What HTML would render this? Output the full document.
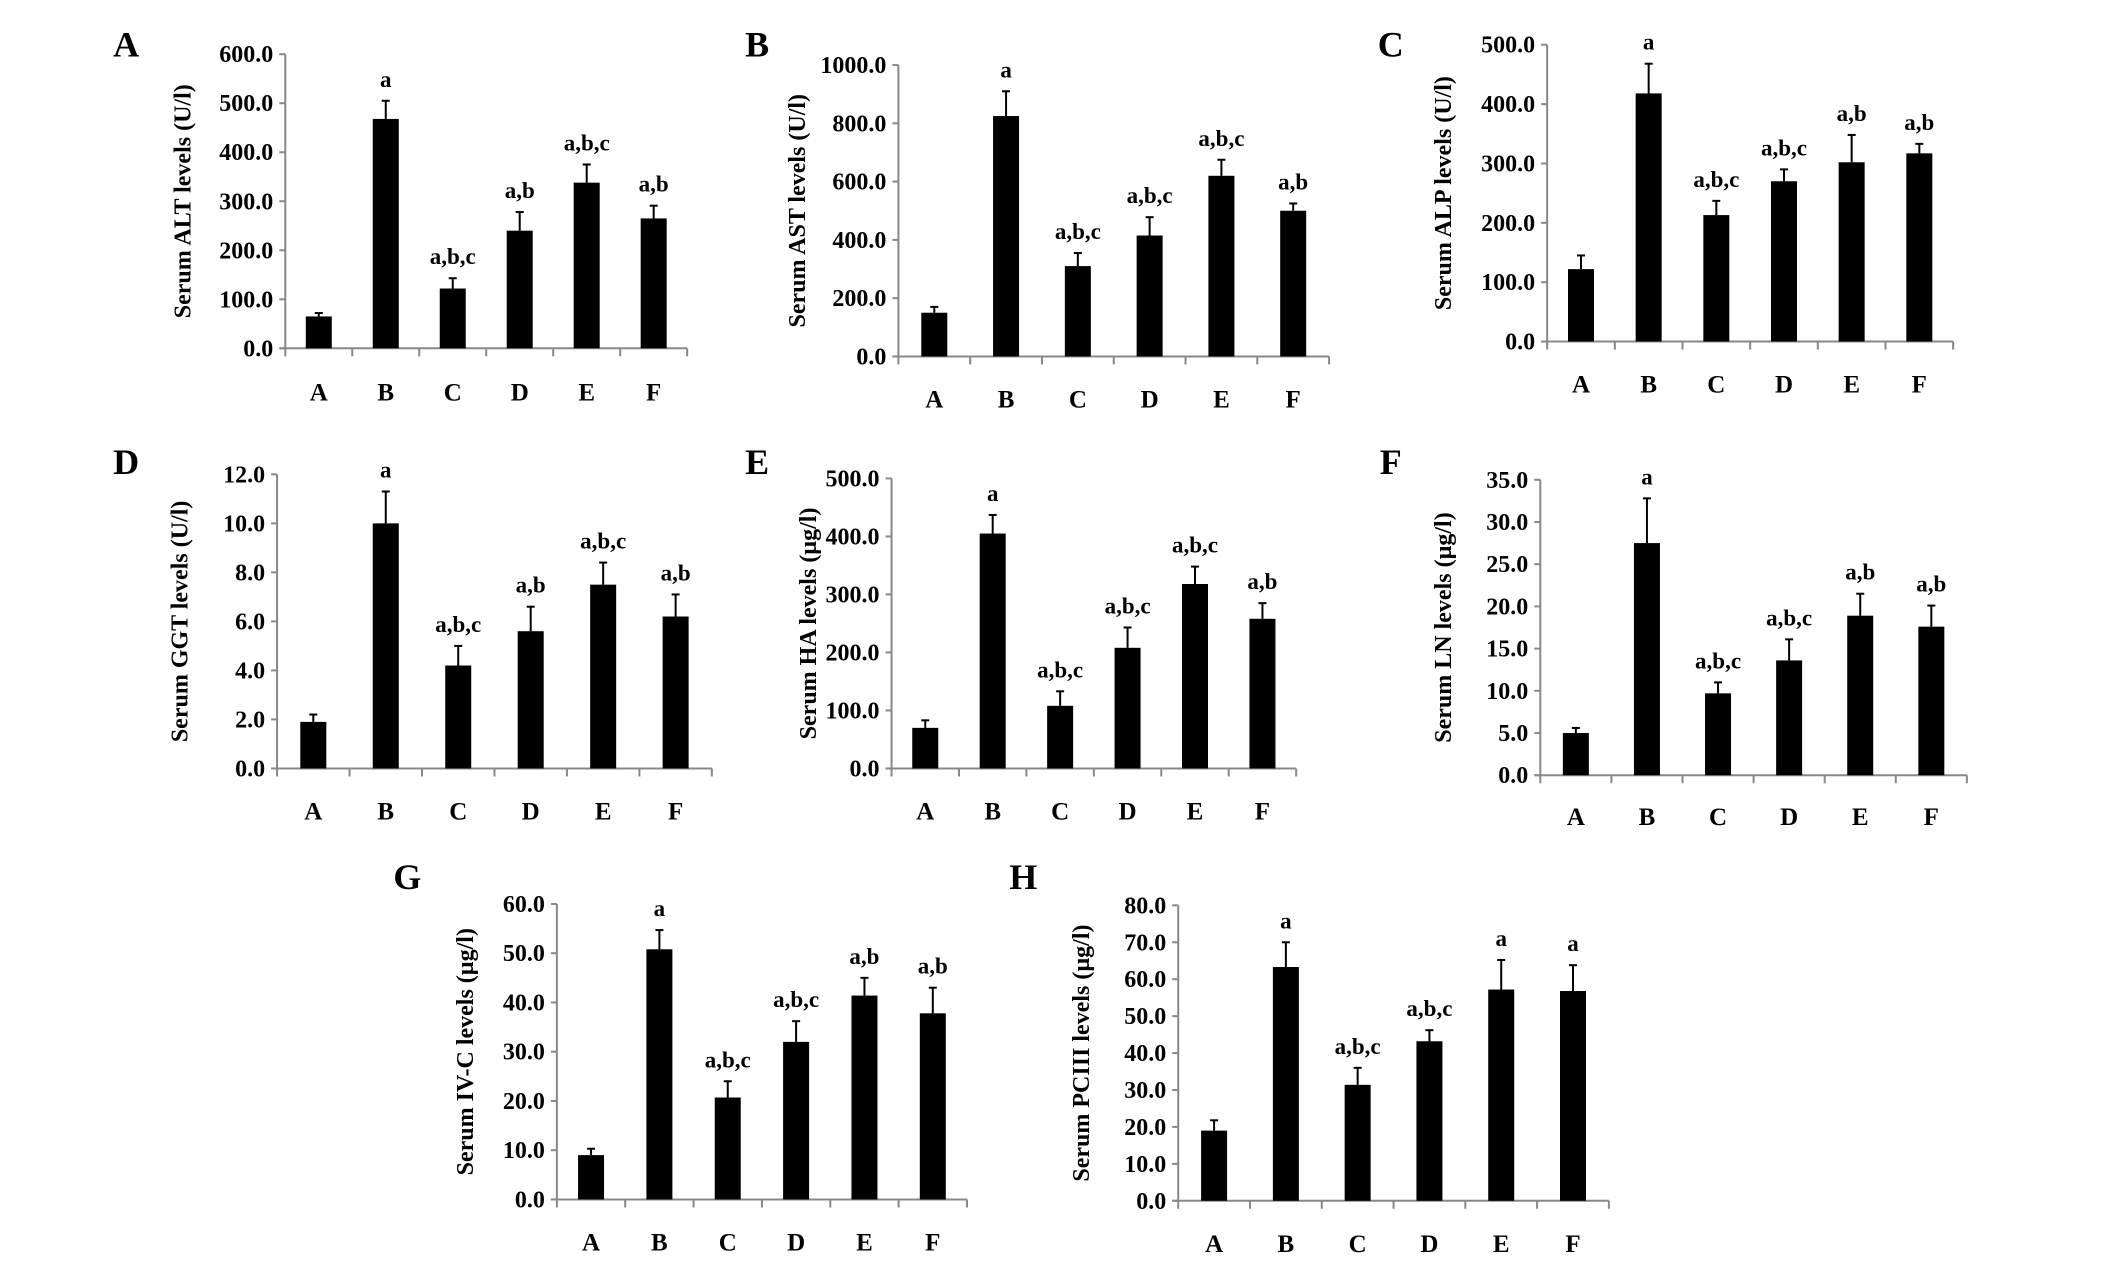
<!DOCTYPE html>
<html><head><meta charset="utf-8"><style>
html,body{margin:0;padding:0;background:#fff;}
svg{display:block;font-family:"Liberation Serif",serif;font-weight:bold;}
</style></head><body>
<svg id="fig" width="2126" height="1277" viewBox="0 0 2126 1277" xmlns="http://www.w3.org/2000/svg"></svg>
<script>
const S = 1.3716;
const SY = 1.3553;
const categories = ["A","B","C","D","E","F"];
const altValues = [65,468,122,240,338,265];
const altErr = [72,505,143,278,375,291];
const astValues = [150,825,310,415,620,500];
const astErr = [170,910,355,478,675,525];
const alpValues = [122,418,213,270,302,317];
const alpErr = [145,468,237,290,348,333];
const ggtValues = [1.9,10.0,4.2,5.6,7.5,6.2];
const ggtErr = [2.2,11.3,5.0,6.6,8.4,7.1];
const haValues = [70,405,108,208,318,258];
const haErr = [83,437,133,243,348,285];
const lnValues = [5.0,27.5,9.7,13.6,18.9,17.6];
const lnErr = [5.6,32.8,11.0,16.1,21.5,20.1];
const ivcValues = [9,50.8,20.7,32,41.4,37.8];
const ivcErr = [10.3,54.7,24,36.2,45,43];
const pcValues = [19,63.3,31.4,43.2,57.2,56.8];
const pcErr = [21.8,70,36,46.2,65.2,63.8];
const altSig = ["","a","a,b,c","a,b","a,b,c","a,b"];
const astSig = ["","a","a,b,c","a,b,c","a,b,c","a,b"];
const alpSig = ["","a","a,b,c","a,b,c","a,b","a,b"];
const ggtSig = ["","a","a,b,c","a,b","a,b,c","a,b"];
const haSig = ["","a","a,b,c","a,b,c","a,b,c","a,b"];
const lnSig = ["","a","a,b,c","a,b,c","a,b","a,b"];
const ivcSig = ["","a","a,b,c","a,b,c","a,b","a,b"];
const pcSig = ["","a","a,b,c","a,b,c","a","a"];
const altTicks = [0,100,200,300,400,500,600];
const astTicks = [0,200,400,600,800,1000];
const alpTicks = [0,100,200,300,400,500];
const ggtTicks = [0,2,4,6,8,10,12];
const haTicks = [0,100,200,300,400,500];
const lnTicks = [0,5,10,15,20,25,30,35];
const ivcTicks = [0,10,20,30,40,50,60];
const pcTicks = [0,10,20,30,40,50,60,70,80];

const panels = [
 {id:"a",letter:"A",lx:92,ly:33,ax:208,top:40,zero:257,right:501,lab:289,tx:133,title:"Serum ALT levels (U/l)",v:altValues,e:altErr,s:altSig,t:altTicks},
 {id:"b",letter:"B",lx:552,ly:33,ax:655,top:48,zero:263,right:969,lab:294,tx:581,title:"Serum AST levels (U/l)",v:astValues,e:astErr,s:astSig,t:astTicks},
 {id:"c",letter:"C",lx:1014,ly:33,ax:1128,top:33,zero:252,right:1424,lab:283,tx:1052,title:"Serum ALP levels (U/l)",v:alpValues,e:alpErr,s:alpSig,t:alpTicks},
 {id:"d",letter:"D",lx:92,ly:341,ax:202,top:350,zero:567,right:519,lab:598,tx:131,title:"Serum GGT levels (U/l)",v:ggtValues,e:ggtErr,s:ggtSig,t:ggtTicks},
 {id:"e",letter:"E",lx:552,ly:341,ax:650,top:353,zero:567,right:945,lab:598,tx:589,title:"Serum HA levels (\u00b5g/l)",v:haValues,e:haErr,s:haSig,t:haTicks},
 {id:"f",letter:"F",lx:1014,ly:341,ax:1123,top:354,zero:572,right:1434,lab:602,tx:1052,title:"Serum LN levels (\u00b5g/l)",v:lnValues,e:lnErr,s:lnSig,t:lnTicks},
 {id:"g",letter:"G",lx:297,ly:647,ax:406,top:667,zero:885,right:705,lab:916,tx:339,title:"Serum IV-C levels (\u00b5g/l)",v:ivcValues,e:ivcErr,s:ivcSig,t:ivcTicks},
 {id:"h",letter:"H",lx:746,ly:647,ax:859,top:668,zero:886,right:1173,lab:917,tx:788,title:"Serum PCIII levels (\u00b5g/l)",v:pcValues,e:pcErr,s:pcSig,t:pcTicks}
];
const NS="http://www.w3.org/2000/svg";
const svg=document.getElementById("fig");
function mk(tag,attrs,parent){const el=document.createElementNS(NS,tag);for(const k in attrs)el.setAttribute(k,attrs[k]);(parent||svg).appendChild(el);return el;}
panels.forEach(p=>{
  const g=mk("g",{});
  
  
  const ax=p.ax*S, top=p.top*SY, zero=p.zero*SY, right=p.right*S;
  const tmax=p.t[p.t.length-1];
  const y=v=>zero-(v/tmax)*(zero-top);
  const bw=(right-ax)/categories.length;
  const x=i=>ax+bw*(i+0.5);
  const L=mk("text",{x:p.lx*S,y:p.ly*SY+12,"font-size":36,"text-anchor":"middle"},g);L.textContent=p.letter;
  
  
  const ya=mk("line",{x1:ax,y1:top,x2:ax,y2:zero,stroke:"#888","stroke-width":2},g);
  
  
  const xa=mk("line",{x1:ax-6,y1:zero,x2:right,y2:zero,stroke:"#888","stroke-width":2},g);
  
  
  p.t.forEach(t=>{
    mk("line",{x1:ax-6,y1:y(t),x2:ax,y2:y(t),stroke:"#888","stroke-width":2},g);
    const tl=mk("text",{x:ax-12,y:y(t)+8,"font-size":24,"text-anchor":"end"},g);
    tl.textContent=t.toFixed(1);
    
    
  });
  for(let i=0;i<=categories.length;i++){mk("line",{x1:ax+bw*i,y1:zero,x2:ax+bw*i,y2:zero+8,stroke:"#888","stroke-width":2},g);}
  const tt=mk("text",{x:0,y:0,"font-size":24,"text-anchor":"middle",transform:`translate(${p.tx*S+8},${(top+zero)/2}) rotate(-90)`},g);
  tt.textContent=p.title;
  
  
  categories.forEach((c,i)=>{
    const cx=x(i);
    const e=mk("line",{x1:cx,y1:y(p.e[i]),x2:cx,y2:y(p.v[i]),stroke:"#000","stroke-width":2},g);
    
    
    mk("line",{x1:cx-4,y1:y(p.e[i]),x2:cx+4,y2:y(p.e[i]),stroke:"#000","stroke-width":2},g);
    const r=mk("rect",{x:cx-13,y:y(p.v[i]),width:26,height:zero-y(p.v[i]),fill:"#000"},g);
    
    
    if(p.s[i]){
      const st=mk("text",{x:cx,y:y(p.e[i])-14,"font-size":23,"text-anchor":"middle"},g);
      st.textContent=p.s[i];
      
      
    }
    const cl=mk("text",{x:cx,y:p.lab*SY+9,"font-size":25,"text-anchor":"middle"},g);
    cl.textContent=c;
    
    
  });
});
</script>
</body></html>
